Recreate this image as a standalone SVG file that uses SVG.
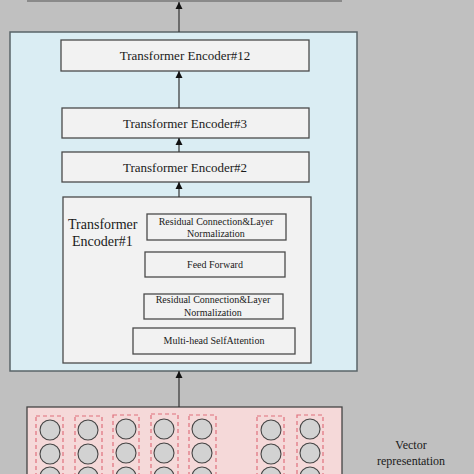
<svg xmlns="http://www.w3.org/2000/svg" width="474" height="474" viewBox="0 0 474 474">
<defs>
<marker id="ah" viewBox="0 0 10 10" refX="10" refY="5" markerWidth="7" markerHeight="8" markerUnits="userSpaceOnUse" orient="auto">
<path d="M0,0 L10,5 L0,10 z" fill="#111"/>
</marker>
<style>
.enc{fill:#f2f2f2;stroke:#4a4a4a;stroke-width:1.3}
.big{font-family:"Liberation Serif",serif;font-size:13px;fill:#1a1a1a;text-anchor:middle}
.sm{font-family:"Liberation Serif",serif;font-size:10px;fill:#1a1a1a;text-anchor:middle}
.col{fill:none;stroke:#e0707c;stroke-width:1.2;stroke-dasharray:4,3}
.c{fill:#d2d2d2;stroke:#444;stroke-width:1.1}
.ln{stroke:#333;stroke-width:1.2;fill:none;marker-end:url(#ah)}
</style>
</defs>
<rect width="474" height="474" fill="#c0c0c0"/>
<g id="output"><rect x="27" y="-2" width="315" height="4" fill="#8a8a8a"/></g>
<g id="bert"><rect x="10" y="32" width="347" height="339" fill="#daedf3" stroke="#5a6468" stroke-width="1.5"/></g>
<g id="enc12"><rect class="enc" x="61" y="40" width="248" height="31"/><text class="big" x="185" y="60">Transformer Encoder#12</text></g>
<g id="enc3"><rect class="enc" x="62" y="108" width="247" height="30"/><text class="big" x="185" y="128">Transformer Encoder#3</text></g>
<g id="enc2"><rect class="enc" x="62" y="152" width="247" height="30"/><text class="big" x="185" y="172">Transformer Encoder#2</text></g>
<g id="enc1">
<rect class="enc" x="63" y="197" width="248" height="166"/>
<text font-family="Liberation Serif,serif" font-size="14" fill="#1a1a1a" x="68" y="229">Transformer</text>
<text font-family="Liberation Serif,serif" font-size="14" fill="#1a1a1a" x="72" y="246">Encoder#1</text>
</g>
<g id="res1"><rect class="enc" x="147" y="214" width="139" height="26"/><text class="sm" x="216" y="225">Residual Connection&amp;Layer</text><text class="sm" x="216" y="237">Normalization</text></g>
<g id="ff"><rect class="enc" x="145" y="252" width="140" height="25"/><text class="sm" x="215" y="268">Feed Forward</text></g>
<g id="res2"><rect class="enc" x="144" y="294" width="139" height="25"/><text class="sm" x="213" y="303">Residual Connection&amp;Layer</text><text class="sm" x="213" y="316">Normalization</text></g>
<g id="mhsa"><rect class="enc" x="133" y="328" width="162" height="26"/><text class="sm" x="214" y="344">Multi-head SelfAttention</text></g>
<g id="input">
<rect x="27" y="407" width="315" height="80" fill="#f5d9d9" stroke="#444" stroke-width="1.3"/>
<rect class="col" x="36" y="416" width="27" height="70"/>
<rect class="col" x="75" y="416" width="27" height="70"/>
<rect class="col" x="113" y="415" width="26" height="70"/>
<rect class="col" x="151" y="414" width="27" height="70"/>
<rect class="col" x="189" y="415" width="27" height="70"/>
<rect class="col" x="257" y="416" width="27" height="70"/>
<rect class="col" x="297" y="415" width="26" height="70"/>
<g>
<circle class="c" cx="50" cy="430" r="10"/><circle class="c" cx="50" cy="454" r="10"/><circle class="c" cx="50" cy="477" r="10"/>
<circle class="c" cx="88" cy="430" r="10"/><circle class="c" cx="88" cy="454" r="10"/><circle class="c" cx="88" cy="477" r="10"/>
<circle class="c" cx="126" cy="429" r="10"/><circle class="c" cx="126" cy="453" r="10"/><circle class="c" cx="126" cy="477" r="10"/>
<circle class="c" cx="164" cy="429" r="10"/><circle class="c" cx="164" cy="453" r="10"/><circle class="c" cx="164" cy="477" r="10"/>
<circle class="c" cx="202" cy="429" r="10"/><circle class="c" cx="202" cy="453" r="10"/><circle class="c" cx="202" cy="477" r="10"/>
<circle class="c" cx="271" cy="430" r="10"/><circle class="c" cx="271" cy="454" r="10"/><circle class="c" cx="271" cy="477" r="10"/>
<circle class="c" cx="310" cy="429" r="10"/><circle class="c" cx="310" cy="453" r="10"/><circle class="c" cx="310" cy="477" r="10"/>
</g>
</g>
<g id="label"><text font-family="Liberation Serif,serif" font-size="12" fill="#1a1a1a" text-anchor="middle" x="411" y="449">Vector</text><text font-family="Liberation Serif,serif" font-size="12" fill="#1a1a1a" text-anchor="middle" x="411" y="465">representation</text></g>
<g id="connectors">
<line class="ln" x1="179" y1="32" x2="179" y2="2"/>
<line class="ln" x1="179" y1="108" x2="179" y2="71"/>
<line class="ln" x1="179" y1="152" x2="179" y2="138"/>
<line class="ln" x1="179" y1="197" x2="179" y2="182"/>
<line class="ln" x1="179" y1="407" x2="179" y2="371"/>
</g>
</svg>
